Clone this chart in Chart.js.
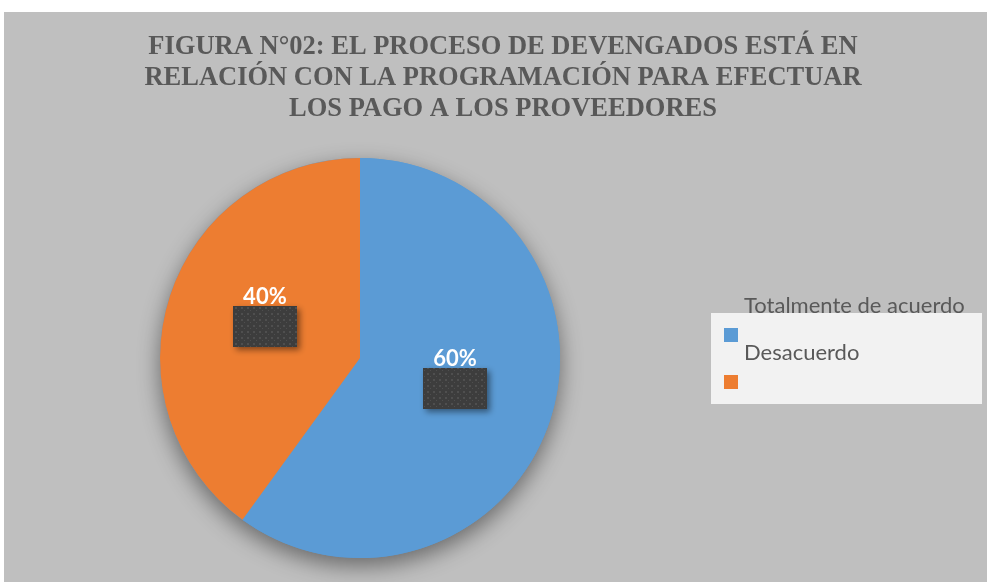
<!DOCTYPE html>
<html>
<head>
  <title>Figura 02</title>
  <script src="https://cdn.jsdelivr.net/npm/chart.js"></script>
  <style>
    body { margin: 0; background: #fff; }
  </style>
</head>
<body>
  <canvas id="pieChart" width="987" height="582"></canvas>
  <script>
    const titleLines = [
      'FIGURA N°02: EL PROCESO DE DEVENGADOS ESTÁ EN',
      'RELACIÓN CON LA PROGRAMACIÓN PARA EFECTUAR',
      'LOS PAGO A LOS PROVEEDORES'
    ];
    const categories = ['Totalmente de acuerdo', 'Desacuerdo'];
    const values = [60, 40];
    const colors = ['#5b9bd5', '#ed7d31'];

    // dotted dark pattern for the label boxes
    const pc = document.createElement('canvas');
    pc.width = 6; pc.height = 6;
    const pctx = pc.getContext('2d');
    pctx.fillStyle = '#3d3d3d';
    pctx.fillRect(0, 0, 6, 6);
    pctx.fillStyle = '#4f4f4f';
    pctx.fillRect(1, 1, 2, 2);
    pctx.fillRect(4, 4, 1, 1);

    const background = {
      id: 'background',
      beforeDraw(chart) {
        const c = chart.ctx;
        c.save();
        c.fillStyle = '#ffffff';
        c.fillRect(0, 0, chart.width, chart.height);
        c.fillStyle = '#bfbfbf';
        c.fillRect(4, 12, chart.width - 4, chart.height - 12);
        // title
        c.fillStyle = '#595959';
        c.font = 'bold 26.5px "Liberation Serif", "Times New Roman", serif';
        c.textAlign = 'center';
        c.textBaseline = 'middle';
        titleLines.forEach((t, i) => c.fillText(t, 503, 47 + i * 31));
        c.restore();
      }
    };

    const pieShadow = {
      id: 'pieShadow',
      beforeDatasetsDraw(chart) {
        const arc = chart.getDatasetMeta(0).data[0];
        const c = chart.ctx;
        c.save();
        c.shadowColor = 'rgba(0,0,0,0.45)';
        c.shadowBlur = 22;
        c.shadowOffsetY = 8;
        c.fillStyle = colors[0];
        c.beginPath();
        c.arc(arc.x, arc.y, arc.outerRadius, 0, Math.PI * 2);
        c.fill();
        c.restore();
      }
    };

    const pctLabels = {
      id: 'pctLabels',
      afterDatasetsDraw(chart) {
        const c = chart.ctx;
        const total = values.reduce((a, b) => a + b, 0);
        chart.getDatasetMeta(0).data.forEach((arc, i) => {
          const p = arc.tooltipPosition();
          c.save();
          c.shadowColor = 'rgba(0,0,0,0.45)';
          c.shadowBlur = 6;
          c.shadowOffsetX = 3;
          c.shadowOffsetY = 3;
          c.fillStyle = c.createPattern(pc, 'repeat');
          c.fillRect(Math.round(p.x - 32), Math.round(p.y - 21), 64, 41);
          c.restore();
          c.save();
          c.fillStyle = '#ffffff';
          c.font = 'bold 22px Lato, "Liberation Sans", Arial, sans-serif';
          c.textAlign = 'center';
          c.textBaseline = 'middle';
          c.fillText(Math.round(values[i] / total * 100) + '%', p.x, p.y - 30);
          c.restore();
        });
      }
    };

    const oddLegend = {
      id: 'oddLegend',
      afterDraw(chart) {
        const c = chart.ctx;
        c.save();
        c.fillStyle = '#f2f2f2';
        c.fillRect(711, 313, 271, 91);
        c.font = '22px Lato, "Liberation Sans", Arial, sans-serif';
        c.textBaseline = 'middle';
        categories.forEach((name, i) => {
          const y = 335 + i * 47;
          c.fillStyle = colors[i];
          c.fillRect(724, y - 7, 14, 14);
          c.fillStyle = '#595959';
          c.fillText(name, 744, y - 29);
        });
        c.restore();
      }
    };

    const ctx = document.getElementById('pieChart').getContext('2d');
    new Chart(ctx, {
      type: 'pie',
      data: {
        labels: categories,
        datasets: [{
          data: values,
          backgroundColor: colors,
          borderWidth: 0,
          hoverBorderWidth: 0,
          hoverOffset: 0
        }]
      },
      options: {
        responsive: false,
        animation: false,
        layout: { padding: { left: 160, right: 427, top: 158, bottom: 24 } },
        plugins: {
          legend: { display: false },
          title: { display: false },
          tooltip: { enabled: false }
        }
      },
      plugins: [background, pieShadow, pctLabels, oddLegend]
    });
  </script>
</body>
</html>
